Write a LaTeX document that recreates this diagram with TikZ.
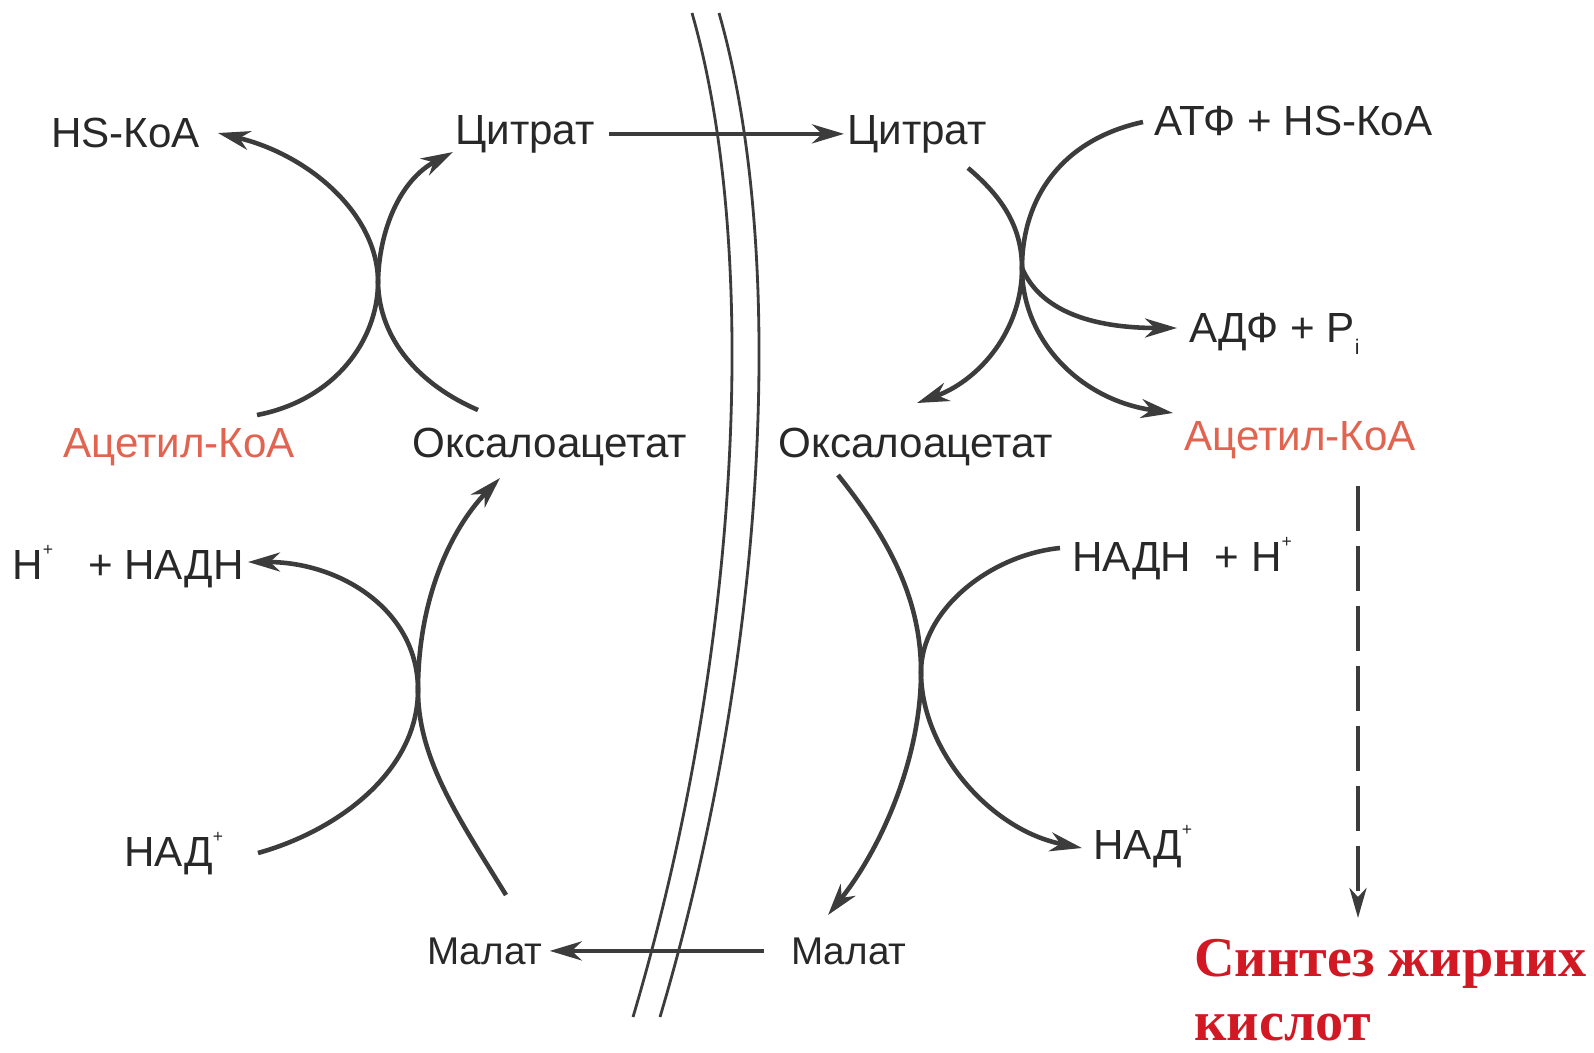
\documentclass[tikz,border=0pt]{standalone}
\usepackage{fontspec}
\setmainfont{Liberation Sans}
\newfontfamily\serifb{Liberation Serif}
\usetikzlibrary{arrows.meta}
\definecolor{ink}{RGB}{40,40,40}
\definecolor{lineg}{RGB}{60,60,60}
\definecolor{acred}{RGB}{225,100,80}
\definecolor{synred}{RGB}{210,25,35}
\newcommand\plussup{\raisebox{0.55em}{\fontsize{10}{10}\selectfont +}}
\newcommand\isub{\raisebox{-0.3em}{\fontsize{12}{12}\selectfont i}}
\begin{document}
\begin{tikzpicture}[x=0.02cm,y=-0.02cm,
  lbl/.style={font=\fontsize{24}{28}\selectfont, text=ink, inner sep=0pt, anchor=base west},
  redlbl/.style={lbl, text=acred},
  mallbl/.style={lbl, font=\fontsize{22}{26}\selectfont},
  synlbl/.style={font=\serifb\bfseries\fontsize{32}{38}\selectfont, text=synred, inner sep=0pt, anchor=base west},
  rx/.style={draw=lineg, line width=2.6pt},
  arr/.style={rx, -{Stealth[length=0.64cm,width=0.38cm,inset=0.2cm]}},
  memb/.style={draw=lineg, line width=1.6pt}]
\useasboundingbox (0,0) rectangle (1594,1052);
\fill[white] (0,0) rectangle (1594,1052);

% labels
\node[lbl] (hs) at (51,147) {HS-КоА};
\node[lbl] (citL) at (455,144) {Цитрат};
\node[lbl] (citR) at (847,144) {Цитрат};
\node[lbl] (atp) at (1154,135) {АТФ + HS-КоА};
\node[lbl] (adp) at (1189,342) {АДФ + P\isub};
\node[redlbl] (acL) at (63,457) {Ацетил-КоА};
\node[lbl] (oxL) at (412,457) {Оксалоацетат};
\node[lbl] (oxR) at (778,457) {Оксалоацетат};
\node[redlbl] (acR) at (1184,450) {Ацетил-КоА};
\node[lbl] (nadhL) at (12,579) {H\plussup\ \ \ + НАДН};
\node[lbl] (nadhR) at (1072,571) {НАДН\ \ + H\plussup};
\node[lbl] (nadL) at (124,866) {НАД\plussup};
\node[lbl] (nadR) at (1093,859) {НАД\plussup};
\node[mallbl] (malL) at (427,964) {Малат};
\node[mallbl] (malR) at (791,964) {Малат};
\node[synlbl] (syn1) at (1194,976) {Синтез жирних};
\node[synlbl] (syn2) at (1194,1040) {кислот};

% membrane
\draw[memb] (692,13) .. controls (760,250) and (742,650) .. (633,1017);
\draw[memb] (719,13) .. controls (787,250) and (769,650) .. (660,1017);

% transport arrows
\draw[arr] ([xshift=0.28cm]citL.east) -- ([xshift=-0.06cm]citR.west);
\draw[arr] ([xshift=-0.54cm]malR.west) -- ([xshift=0.14cm]malL.east);

% top left reaction
\coordinate (a1) at (257,415);
\coordinate (x1) at (378,282);
\coordinate (a2) at (218,133);
\coordinate (b1) at (478,410);
\coordinate (b2) at (453,152);
\draw[arr] (a1) .. controls (335,400) and (378,340) .. (x1) .. controls (378,215) and (310,155) .. (a2);
\draw[arr] (b1) .. controls (420,385) and (379,340) .. (x1) .. controls (379,230) and (400,180) .. (b2);

% top right reaction
\coordinate (c1) at (1143,122);
\coordinate (x2) at (1022,268);
\coordinate (c2) at (1177,328);
\coordinate (c3) at (1173,413);
\coordinate (d1) at (968,168);
\coordinate (d2) at (917,403);
\draw[rx] (c1) .. controls (1060,140) and (1022,200) .. (x2);
\draw[arr] (x2) .. controls (1040,310) and (1090,328) .. (c2);
\draw[arr] (x2) .. controls (1022,340) and (1080,400) .. (c3);
\draw[arr] (d1) .. controls (1000,195) and (1022,225) .. (x2) .. controls (1022,330) and (980,380) .. (d2);

% bottom left reaction
\coordinate (e1) at (258,853);
\coordinate (x3) at (418,690);
\coordinate (e2) at (248,562);
\coordinate (f1) at (506,895);
\coordinate (f2) at (500,478);
\draw[arr] (e1) .. controls (340,830) and (418,770) .. (x3) .. controls (418,610) and (340,562) .. (e2);
\draw[arr] (f1) .. controls (460,820) and (418,760) .. (x3) .. controls (418,600) and (450,530) .. (f2);

% bottom right reaction
\coordinate (g1) at (838,475);
\coordinate (x4) at (921,672);
\coordinate (g2) at (828,915);
\coordinate (h1) at (1060,548);
\coordinate (h2) at (1082,848);
\draw[arr] (g1) .. controls (890,540) and (921,600) .. (x4) .. controls (921,760) and (880,850) .. (g2);
\draw[arr] (h1) .. controls (990,555) and (921,610) .. (x4) .. controls (921,750) and (990,830) .. (h2);

% dashed arrow to fatty acid synthesis
\coordinate (dtop) at (1358,486);
\coordinate (dbot) at (1358,918);
\draw[rx, line width=2.4pt, dash pattern=on 0.9cm off 0.3cm, -{Stealth[length=0.6cm,width=0.34cm,inset=0.18cm]}] (dtop) -- (dbot);
\end{tikzpicture}
\end{document}
